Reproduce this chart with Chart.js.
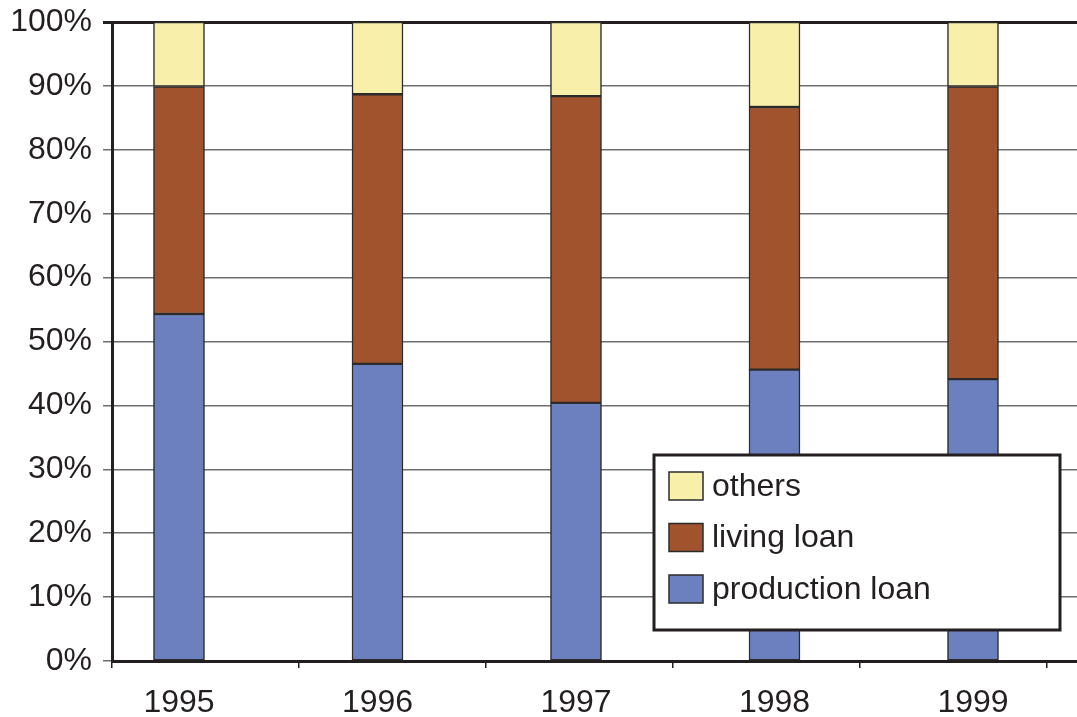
<!DOCTYPE html>
<html>
<head>
<meta charset="utf-8">
<script src="https://cdn.jsdelivr.net/npm/chart.js@4.4.1/dist/chart.umd.min.js"></script>
<style>
  html, body { margin: 0; padding: 0; background: #fff; overflow: hidden; }
  #wrap { width: 1077px; height: 717px; }
</style>
</head>
<body>
<div id="wrap"><canvas id="LoanChart" width="1077" height="717"></canvas></div>
<script>
Chart.defaults.font.family = "Arial, 'Liberation Sans', Helvetica, sans-serif";
Chart.defaults.color = '#231f20';

// data (percent of total, stacked)
const years = [1995, 1996, 1997, 1998, 1999];
const productionLoan = [54.3, 46.5, 40.4, 45.6, 44.1];
const livingLoan = [35.6, 42.2, 48.0, 41.1, 45.8];
const others = [10.1, 11.3, 11.6, 13.3, 10.1];
const yTicks = [0, 10, 20, 30, 40, 50, 60, 70, 80, 90, 100];

// x range of the plot (bars are not centred between the tick marks in the original)
const xMin = 1994.6625;
const xMax = 1999.524;
const xTickStep = 0.942;

function toPoints(arr) {
    return arr.map((v, i) => ({ x: years[i], y: v }));
}

const barStyle = {
    xAxisID: 'x',
    yAxisID: 'y',
    stack: 'loans',
    borderColor: '#2b2b2b',
    borderWidth: 1.5,
    borderSkipped: false,
    barThickness: 51
};

// legend box drawn over the plot
const boxLegend = {
    id: 'boxLegend',
    afterDraw(chart) {
        const c = chart.ctx;
        const x = 654, y = 455, w = 406, h = 175;
        c.save();
        c.fillStyle = '#fff';
        c.fillRect(x, y, w, h);
        c.strokeStyle = '#231f20';
        c.lineWidth = 3;
        c.strokeRect(x, y, w, h);
        const items = chart.data.datasets.slice().reverse();
        c.font = "32px Arial, 'Liberation Sans', sans-serif";
        c.textBaseline = 'middle';
        items.forEach((ds, i) => {
            const cy = 486 + i * 51.5;
            c.fillStyle = ds.backgroundColor;
            c.fillRect(669, cy - 14, 34, 28);
            c.strokeStyle = '#2b2b2b';
            c.lineWidth = 1.5;
            c.strokeRect(669, cy - 14, 34, 28);
            c.fillStyle = '#231f20';
            c.fillText(ds.label, 712, cy + 1);
        });
        c.restore();
    }
};

var ctx = document.getElementById('LoanChart').getContext('2d');

var LoanChart = new Chart(ctx, {
    type: 'bar',
    data: {
        datasets: [
            Object.assign({ label: 'production loan', data: toPoints(productionLoan), backgroundColor: '#6c7fbf' }, barStyle),
            Object.assign({ label: 'living loan', data: toPoints(livingLoan), backgroundColor: '#a0532c' }, barStyle),
            Object.assign({ label: 'others', data: toPoints(others), backgroundColor: '#f8f0aa' }, barStyle)
        ]
    },
    options: {
        responsive: false,
        animation: false,
        devicePixelRatio: 1,
        layout: { padding: { top: 22, left: 0, right: 0, bottom: 0 } },
        plugins: {
            legend: { display: false },
            tooltip: { enabled: false }
        },
        scales: {
            x: {
                type: 'linear',
                position: 'bottom',
                weight: 1,
                stacked: true,
                offset: false,
                bounds: 'data',
                min: xMin,
                max: xMax,
                afterBuildTicks: (s) => {
                    s.ticks = years.map(v => ({ value: v }));
                },
                afterFit: (s) => { s.height = 49; s.paddingLeft = 0; s.paddingRight = 0; },
                ticks: {
                    font: { size: 32 },
                    padding: 8,
                    callback: (v) => String(v)
                },
                grid: { display: false, offset: false },
                border: { display: false }
            },
            xt: {
                type: 'linear',
                position: 'bottom',
                weight: 0,
                offset: false,
                bounds: 'data',
                min: xMin,
                max: xMax,
                afterBuildTicks: (s) => {
                    s.ticks = [0, 1, 2, 3, 4, 5].map(k => ({ value: xMin + k * xTickStep }));
                },
                afterFit: (s) => { s.height = 7; s.paddingLeft = 0; s.paddingRight = 0; },
                ticks: { display: false },
                grid: { drawOnChartArea: false, offset: false, tickLength: 7, color: '#231f20', lineWidth: 1.5 },
                border: { color: '#231f20', width: 3 }
            },
            y: {
                stacked: true,
                min: 0,
                max: 100,
                afterBuildTicks: (s) => {
                    s.ticks = yTicks.map(v => ({ value: v }));
                },
                afterFit: (s) => { s.width = 112; s.paddingTop = 0; s.paddingBottom = 0; },
                ticks: {
                    font: { size: 32 },
                    padding: 11,
                    callback: (v) => v + '%'
                },
                grid: {
                    tickLength: 9,
                    color: (c) => c.tick && c.tick.value === 100 ? '#231f20' : '#6d6e70',
                    lineWidth: (c) => c.tick && c.tick.value === 100 ? 3 : 1.5
                },
                border: { color: '#231f20', width: 3 }
            }
        }
    },
    plugins: [boxLegend]
});
</script>
</body>
</html>
